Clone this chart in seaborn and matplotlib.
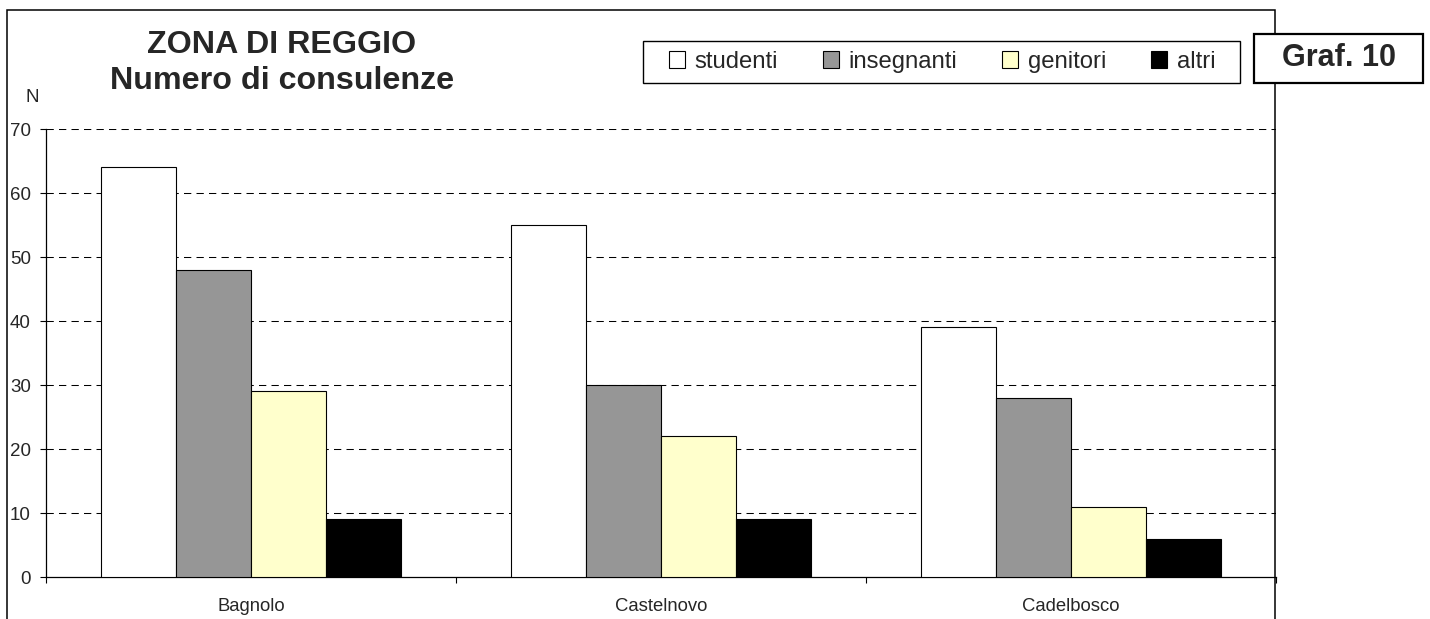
import matplotlib
matplotlib.use("Agg")
import matplotlib.pyplot as plt
from matplotlib.patches import Rectangle, Patch
from matplotlib.ticker import FixedLocator
import seaborn as sns
import pandas as pd

# data
zone = ["Bagnolo", "Castelnovo", "Cadelbosco"]
categorie = ["studenti", "insegnanti", "genitori", "altri"]
studenti = [64, 55, 39]
insegnanti = [48, 30, 28]
genitori = [29, 22, 11]
altri = [9, 9, 6]
colori = ["#ffffff", "#969696", "#ffffcc", "#000000"]

df = pd.DataFrame({
    "zona": zone * 4,
    "tipo": [c for c in categorie for _ in zone],
    "n": studenti + insegnanti + genitori + altri,
})

sns.set_style("white")
plt.rcParams["font.family"] = ["Liberation Sans", "DejaVu Sans"]

W, H = 1430, 619
fig = plt.figure(figsize=(W / 100, H / 100), dpi=100)
ax = fig.add_axes([46 / W, 42 / H, (1276 - 46) / W, (577 - 129) / H])

sns.barplot(data=df, x="zona", y="n", hue="tipo", order=zone, hue_order=categorie,
            palette=colori, width=0.732, edgecolor="black", linewidth=0.8,
            saturation=1, legend=False, ax=ax, zorder=3)

ax.set_xlim(-0.5, 2.5)
ax.set_ylim(0, 70)
ax.set_yticks(range(0, 71, 10))
ax.set_xlabel("")
ax.set_ylabel("")

# dashed grid behind the bars
for v in range(10, 71, 10):
    ax.axhline(v, color="black", linewidth=0.75, linestyle=(0, (7, 5)), zorder=1)

for s in ["top", "right"]:
    ax.spines[s].set_visible(False)
for s in ["left", "bottom"]:
    ax.spines[s].set_color("black")
    ax.spines[s].set_linewidth(0.9)

ax.tick_params(axis="y", direction="out", length=4.3, width=0.8, color="black",
               labelsize=13.5, pad=6.5, left=True)
ax.tick_params(axis="x", which="major", length=0, labelsize=13.3, pad=15)
ax.xaxis.set_minor_locator(FixedLocator([-0.5, 0.5, 1.5, 2.5]))
ax.tick_params(axis="x", which="minor", direction="out", length=4.3, width=0.8,
               color="black", bottom=True)

# outer frame, open at the bottom
fig.add_artist(Rectangle((7 / W, -0.1), (1275 - 7) / W, 1 - 10 / H + 0.1,
                         transform=fig.transFigure, fill=False, ec="black", lw=1.1))

fig.text(282 / W, 1 - 63 / H, "ZONA DI REGGIO\nNumero di consulenze", ha="center",
         va="center", fontsize=23.2, fontweight="bold", linespacing=1.22)
fig.text(32 / W, 1 - 98 / H, "N", ha="center", va="center", fontsize=13.5)

# legend
handles = [Patch(facecolor=c, edgecolor="black", linewidth=0.8) for c in colori]
fig.add_artist(Rectangle((643 / W, 1 - 83 / H), (1240 - 643) / W, 42 / H,
                         transform=fig.transFigure, fc="white", ec="black", lw=1.0))
fig.legend(handles, categorie, loc="center", bbox_to_anchor=(942 / W, 1 - 62 / H),
           ncol=4, frameon=False, fontsize=17.2, handlelength=0.7, handleheight=0.7,
           handletextpad=0.4, columnspacing=1.85, borderpad=0)

# "Graf. 10" box
fig.add_artist(Rectangle((1254 / W, 1 - 83 / H), (1423 - 1254) / W, 49 / H,
                         transform=fig.transFigure, fc="white", ec="black", lw=1.6,
                         zorder=5))
fig.text(1339 / W, 1 - 58 / H, "Graf. 10", ha="center", va="center", fontsize=22,
         fontweight="bold", zorder=6)

fig.savefig("out.png", dpi=100)
